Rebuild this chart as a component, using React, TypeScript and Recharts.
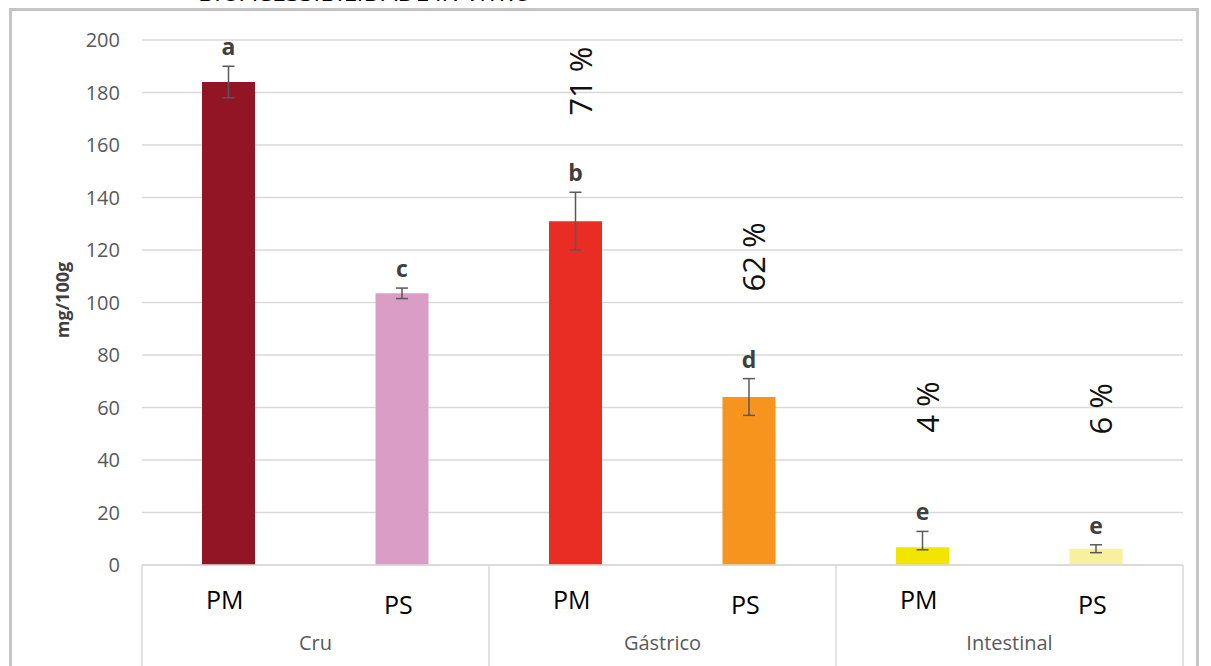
import React from 'react';
import { BarChart, Bar, XAxis, YAxis, CartesianGrid, ErrorBar, Cell, LabelList } from 'recharts';

const categories = ['PM', 'PS', 'PM', 'PS', 'PM', 'PS'];
const groups = ['Cru', 'Gástrico', 'Intestinal'];
const values = [184, 103.5, 131, 64, 6.8, 6.2];
const errLow = [6, 2, 11, 7, 1, 1.5];
const errHigh = [6, 2, 11, 7, 6, 1.5];
const letters = ['a', 'c', 'b', 'd', 'e', 'e'];
const percents = ['', '', '71 %', '62 %', '4 %', '6 %'];
const colors = ['#921526', '#d99dc6', '#ea2d24', '#f7941d', '#f2e500', '#f8f09a'];
const yTicks = [0, 20, 40, 60, 80, 100, 120, 140, 160, 180, 200];

const data = categories.map((c, i) => ({
  key: `${groups[Math.floor(i / 2)]}-${c}-${i}`,
  name: c,
  value: values[i],
  err: [errLow[i], errHigh[i]],
  letter: letters[i],
  pct: percents[i],
}));

const FONT = '"Open Sans", "Liberation Sans", sans-serif';
const PLOT_LEFT = 142;
const PLOT_RIGHT = 1183;
const PLOT_BOTTOM = 565;
const BAND = (PLOT_RIGHT - PLOT_LEFT) / categories.length;

const CategoryTick = (props: any) => {
  const { x, index } = props;
  const label = categories[index];
  const out: React.ReactNode[] = [];
  out.push(
    <text key="c" x={x - 4} y={index % 2 === 0 ? 609 : 614} textAnchor="middle"
      fontFamily={FONT} fontSize={25} fill="#000">{label}</text>
  );
  if (index % 2 === 0) {
    const left = x - BAND / 2;
    out.push(<line key="l" x1={left} x2={left} y1={PLOT_BOTTOM} y2={666} stroke="#d9d9d9" strokeWidth={1.5} />);
    out.push(
      <text key="g" x={x + BAND / 2} y={650} textAnchor="middle"
        fontFamily={FONT} fontSize={20} fill="#595959">{groups[index / 2]}</text>
    );
  }
  if (index === categories.length - 1) {
    const right = x + BAND / 2;
    out.push(<line key="r" x1={right} x2={right} y1={PLOT_BOTTOM} y2={666} stroke="#d9d9d9" strokeWidth={1.5} />);
  }
  return <g>{out}</g>;
};

const LetterLabel = (props: any) => {
  const { x, y, width, height, index } = props;
  const perUnit = height / values[index];
  const errTop = y - errHigh[index] * perUnit;
  return (
    <text x={x + width / 2} y={errTop - 11} textAnchor="middle" fontFamily={FONT}
      fontWeight="bold" fontSize={23} fill="#404040">{letters[index]}</text>
  );
};

const PercentLabel = (props: any) => {
  const { x, y, width, index } = props;
  const p = percents[index];
  if (!p) return null;
  const cx = x + width / 2 + 4;
  const cy = y - 140;
  return (
    <text transform={`translate(${cx},${cy}) rotate(-90)`} textAnchor="middle" dominantBaseline="central"
      fontFamily={FONT} fontSize={31} fill="#111">{p}</text>
  );
};

const App = () => {
  return (
    <div style={{ position: 'fixed', left: 0, top: 0, width: 1211, height: 666, overflow: 'hidden', background: '#fff' }}>
      <div style={{
        position: 'absolute', left: 9, top: 8, width: 1190, height: 700,
        border: '3px solid #c4c4c4', boxSizing: 'border-box',
      }} />
      <div style={{
        position: 'absolute', left: 0, top: -24, width: 730, textAlign: 'center',
        fontFamily: FONT, fontSize: 25, color: '#000', lineHeight: '30px',
      }}>
        BIOACESSIBILIDADE <i>IN VITRO</i>
      </div>
      <div style={{ position: 'absolute', left: 0, top: 0 }}>
        <BarChart width={1211} height={666} data={data}
          margin={{ top: 40, right: 1211 - PLOT_RIGHT, left: 62, bottom: 0 }} barSize={53}>
          <CartesianGrid vertical={false} stroke="#d9d9d9" strokeWidth={1.5} />
          <XAxis dataKey="key" height={101} interval={0} tickLine={false}
            axisLine={{ stroke: '#d9d9d9', strokeWidth: 1.5 }} tick={<CategoryTick />} />
          <YAxis domain={[0, 200]} ticks={yTicks} width={80} axisLine={false} tickLine={false}
            tickMargin={16} tick={{ fontFamily: FONT, fontSize: 20, fill: '#595959' }}
            label={{
              content: () => (
                <text transform="translate(62,300) rotate(-90)" textAnchor="middle" dominantBaseline="central"
                  fontFamily={FONT} fontWeight="bold" fontSize={18} fill="#404040">mg/100g</text>
              ),
            }} />
          <Bar dataKey="value" isAnimationActive={false}>
            {data.map((d, i) => <Cell key={d.key} fill={colors[i]} />)}
            <ErrorBar dataKey="err" width={6} stroke="#595959" strokeWidth={1.5} direction="y" />
            <LabelList dataKey="letter" content={<LetterLabel />} />
            <LabelList dataKey="pct" content={<PercentLabel />} />
          </Bar>
        </BarChart>
      </div>
    </div>
  );
};

export default App;
